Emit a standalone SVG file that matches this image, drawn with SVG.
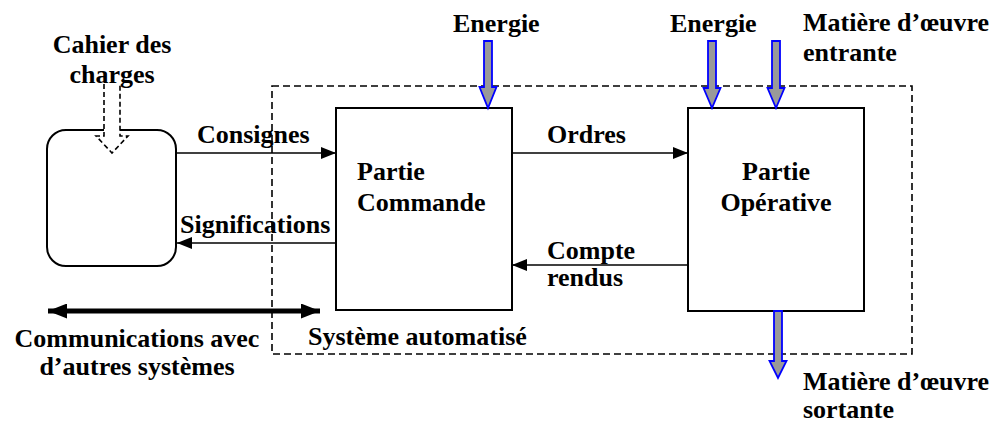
<svg xmlns="http://www.w3.org/2000/svg" width="1000" height="423" viewBox="0 0 1000 423">
<defs>
<style>
text{font-family:'Liberation Serif','Times New Roman',Times,'DejaVu Serif',serif;font-weight:bold;font-size:26px;fill:#000}
.box{fill:#fff;stroke:#000;stroke-width:2}
.ln{stroke:#000;stroke-width:1.6;fill:none}
.dash{fill:none;stroke:#000;stroke-width:1.6;stroke-dasharray:7,4}
.flow{fill:#999;stroke:#00f;stroke-width:1.8}
.mid{text-anchor:middle}
</style>
<marker id="ah" viewBox="0 0 15 12" markerWidth="15" markerHeight="12" refX="15" refY="6" orient="auto" markerUnits="userSpaceOnUse">
<path d="M0,0 L15,6 L0,12 z" fill="#000"/>
</marker>
<marker id="ahb" viewBox="0 0 19 15" markerWidth="19" markerHeight="15" refX="19" refY="7.5" orient="auto-start-reverse" markerUnits="userSpaceOnUse">
<path d="M0,0 L19,7.5 L0,15 z" fill="#000"/>
</marker>
</defs>

<g id="systeme">
<rect class="dash" x="272" y="86" width="640" height="268"/>
<text x="308" y="345">Système automatisé</text>
</g>

<g id="pupitre">
<rect class="box" x="47" y="130" width="129" height="136" rx="19" ry="19"/>
</g>

<g id="cahier">
<text class="mid" x="112" y="53">Cahier des</text>
<text class="mid" x="112" y="83">charges</text>
<path d="M104,84 V136 H96 L112,153 L128,136 H120 V84" fill="#fff" stroke="#000" stroke-width="1.6" stroke-dasharray="5,3"/>
</g>

<g id="partie-commande">
<rect class="box" x="336" y="108" width="176" height="202"/>
<text x="357" y="180">Partie</text>
<text x="357" y="211">Commande</text>
</g>

<g id="partie-operative">
<rect class="box" x="688" y="108" width="176" height="203"/>
<text class="mid" x="776" y="180">Partie</text>
<text class="mid" x="776" y="211">Opérative</text>
</g>

<g id="connectors">
<line class="ln" x1="177" y1="153" x2="336" y2="153" marker-end="url(#ah)"/>
<line class="ln" x1="336" y1="243" x2="177" y2="243" marker-end="url(#ah)"/>
<line class="ln" x1="512" y1="153" x2="688" y2="153" marker-end="url(#ah)"/>
<line class="ln" x1="688" y1="265" x2="512" y2="265" marker-end="url(#ah)"/>
<line x1="48" y1="311" x2="320" y2="311" stroke="#000" stroke-width="5" marker-start="url(#ahb)" marker-end="url(#ahb)"/>
<path class="flow" d="M484,41 H492 V87 H496.5 L488,108 L479.5,87 H484 Z"/>
<path class="flow" d="M708,41 H716 V88 H720.5 L712,108 L703.5,88 H708 Z"/>
<path class="flow" d="M772,41 H780 V88 H784.5 L776,108 L767.5,88 H772 Z"/>
<path class="flow" d="M774,311 H782 V361 H786.5 L778,378 L769.5,361 H774 Z"/>
</g>

<g id="labels">
<text x="197" y="143">Consignes</text>
<text x="180" y="233">Significations</text>
<text x="547" y="143">Ordres</text>
<text x="547" y="259">Compte</text>
<text x="547" y="286">rendus</text>
<text x="453" y="32">Energie</text>
<text x="670" y="32">Energie</text>
<text x="803" y="31">Matière d’œuvre</text>
<text x="803" y="61">entrante</text>
<text x="803" y="390">Matière d’œuvre</text>
<text x="803" y="418">sortante</text>
<text class="mid" x="137" y="347">Communications avec</text>
<text class="mid" x="137" y="375">d’autres systèmes</text>
</g>
</svg>
